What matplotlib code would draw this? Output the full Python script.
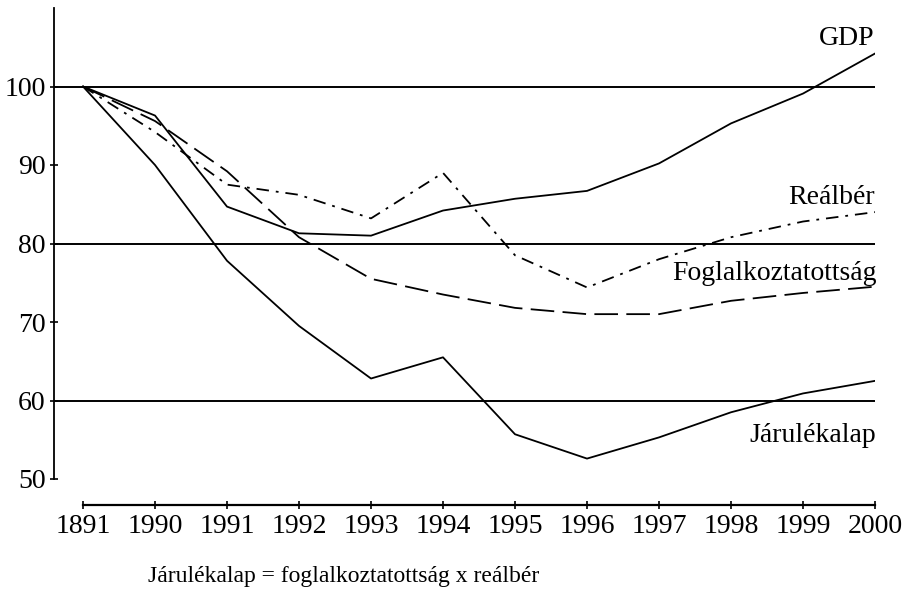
import matplotlib
matplotlib.use("Agg")
import matplotlib.pyplot as plt

plt.rcParams['font.family'] = ['Liberation Serif', 'DejaVu Serif']
plt.rcParams['lines.scale_dashes'] = False

years = ['1891', '1990', '1991', '1992', '1993', '1994', '1995',
         '1996', '1997', '1998', '1999', '2000']
gdp = [100, 96.3, 84.7, 81.3, 81.0, 84.2, 85.7, 86.7, 90.2, 95.3, 99.1, 104.2]
realber = [100, 94.2, 87.5, 86.2, 83.2, 89.0, 78.5, 74.4, 78.0, 80.8, 82.8, 84.0]
foglalk = [100, 95.6, 89.2, 80.8, 75.5, 73.5, 71.8, 71.0, 71.0, 72.7, 73.7, 74.5]
jarulek = [100, 90.0, 77.8, 69.5, 62.8, 65.5, 55.7, 52.6, 55.3, 58.5, 60.9, 62.5]
grid_vals = [60, 80, 100]
y_ticks = [50, 60, 70, 80, 90, 100]

fig = plt.figure(figsize=(9.16, 5.89), dpi=100)
ax = fig.add_axes([54/916, 110/589, 821/916, 471/589])
x = list(range(len(years)))

for g in grid_vals:
    ax.axhline(g, color='black', lw=1.4, zorder=1)

ax.plot(x, gdp, color='black', lw=1.3)
ax.plot(x, jarulek, color='black', lw=1.3)
ax.plot(x, realber, color='black', lw=1.3, dashes=(9, 5, 2, 5))
ax.plot(x, foglalk, color='black', lw=1.3, dashes=(17, 6))

ax.set_xlim(-0.403, 11)
ax.set_ylim(50, 110)
ax.set_xticks(x)
ax.set_xticklabels(years)
ax.set_yticks(y_ticks)
ax.tick_params(axis='both', direction='inout', length=6, width=1.2,
               labelsize=20, colors='black')
ax.tick_params(axis='y', pad=3)
ax.tick_params(axis='x', pad=3)

for s in ['top', 'right']:
    ax.spines[s].set_visible(False)
ax.spines['left'].set_linewidth(1.3)
ax.spines['bottom'].set_linewidth(1.6)
ax.spines['bottom'].set_position(('outward', 19))
ax.spines['bottom'].set_bounds(0, 11)

ax.text(11, 105.3, 'GDP', ha='right', va='baseline', fontsize=20)
ax.text(11, 85.0, 'Reálbér', ha='right', va='baseline', fontsize=20)
ax.text(11.03, 75.3, 'Foglalkoztatottság', ha='right', va='baseline', fontsize=20)
ax.text(11.02, 54.7, 'Járulékalap', ha='right', va='baseline', fontsize=20)

fig.text(148/916, 7/589, 'Járulékalap = foglalkoztatottság x reálbér',
         ha='left', va='baseline', fontsize=17)

fig.savefig('out.png', dpi=100)
